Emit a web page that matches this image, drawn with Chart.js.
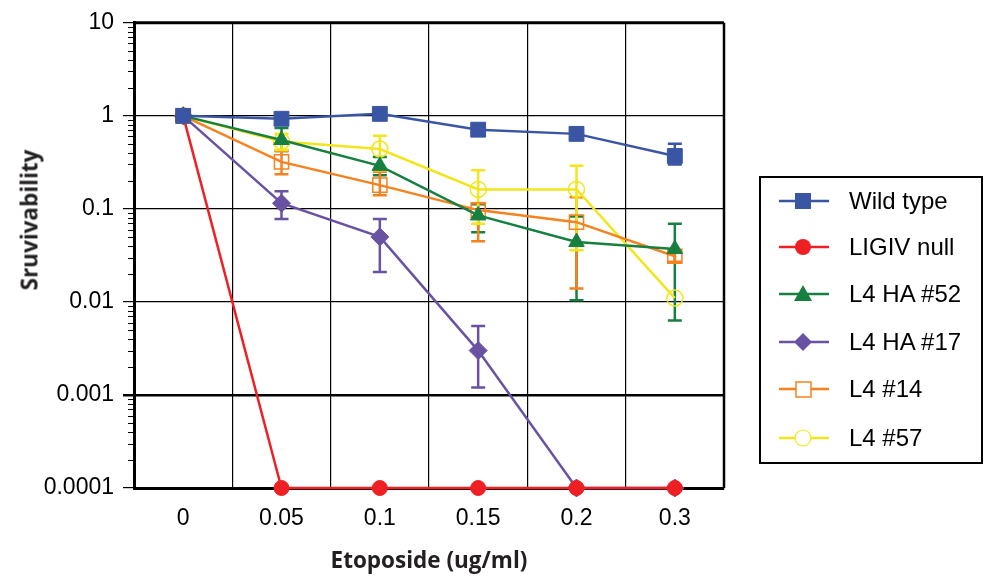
<!DOCTYPE html>
<html>
<head>
<meta charset="utf-8">
<script src="https://cdn.jsdelivr.net/npm/chart.js@4"></script>
<style>
  body { margin: 0; background: #fff; }
  #wrap { position: relative; width: 984px; height: 583px; overflow: hidden; }
  #chart { position: absolute; left: 0; top: 0; }
  .ttl { position: absolute; font: bold 22.5px "Open Sans", sans-serif; color: #231f20; white-space: nowrap; }
  #ytitle { left: 29px; top: 220px; transform: translate(-50%, -50%) rotate(-90deg); }
  #xtitle { left: 429px; top: 559px; transform: translate(-50%, -50%); }
  #legend { position: absolute; left: 759px; top: 176px; width: 224px; height: 288px; border: 2px solid #000; box-sizing: border-box; }
  .li { position: absolute; left: 18px; height: 30px; display: flex; align-items: center; font: 24px "Liberation Sans", Arial, sans-serif; color: #000; }
  .li svg { margin-right: 20px; }
</style>
</head>
<body>
<div id="wrap">
  <canvas id="chart" width="984" height="583"></canvas>
  <div class="ttl" id="ytitle">Sruvivability</div>
  <div class="ttl" id="xtitle">Etoposide (ug/ml)</div>
  <div id="legend"></div>
</div>
<script>
// ==================== DATA ====================
const doses = ['0', '0.05', '0.1', '0.15', '0.2', '0.3'];
const yTicks = [0.0001, 0.001, 0.01, 0.1, 1, 10];
const yTickLabels = ['0.0001', '0.001', '0.01', '0.1', '1', '10'];

const wildType   = [1, 0.93, 1.05, 0.71, 0.64, 0.37];
const wildTypeLo = [null, null, null, null, null, 0.3];
const wildTypeHi = [null, null, null, null, null, 0.5];

const ligivNull  = [1, 0.0001, 0.0001, 0.0001, 0.0001, 0.0001];

const ha52   = [1, 0.55, 0.29, 0.085, 0.044, 0.037];
const ha52Lo = [null, 0.42, 0.23, 0.056, 0.0104, 0.0063];
const ha52Hi = [null, 0.74, 0.36, 0.112, 0.083, 0.069];

const ha17   = [1, 0.115, 0.05, 0.003, 0.0001, 0.0001];
const ha17Lo = [null, 0.078, 0.021, 0.0012, null, null];
const ha17Hi = [null, 0.155, 0.078, 0.0055, null, null];

const l414   = [1, 0.32, 0.18, 0.097, 0.072, 0.031];
const l414Lo = [null, 0.235, 0.14, 0.045, 0.0139, 0.027];
const l414Hi = [null, 0.42, 0.25, 0.115, 0.133, 0.036];

const l457   = [1, 0.53, 0.44, 0.162, 0.162, 0.011];
const l457Lo = [null, 0.43, 0.26, 0.069, 0.036, null];
const l457Hi = [null, 0.64, 0.61, 0.26, 0.29, null];

// ==================== SERIES ====================
const series = [
  { label: 'Wild type',  data: wildType,  lo: wildTypeLo, hi: wildTypeHi, color: '#3a55a4', style: 'rect',     radius: 10.5, fill: true },
  { label: 'LIGIV null', data: ligivNull, lo: null,       hi: null,       color: '#ee2024', style: 'circle',   radius: 7.5,  fill: true },
  { label: 'L4 HA #52',  data: ha52,      lo: ha52Lo,     hi: ha52Hi,     color: '#178040', style: 'triangle', radius: 9,    fill: true },
  { label: 'L4 HA #17',  data: ha17,      lo: ha17Lo,     hi: ha17Hi,     color: '#6a52a3', style: 'rectRot',  radius: 9,    fill: true },
  { label: 'L4 #14',     data: l414,      lo: l414Lo,     hi: l414Hi,     color: '#f6821f', style: 'rect',     radius: 10,   fill: false },
  { label: 'L4 #57',     data: l457,      lo: l457Lo,     hi: l457Hi,     color: '#f2e51b', style: 'circle',   radius: 8,    fill: false }
];

// ERROR BARS
const errorBars = {
  id: 'errorBars',
  beforeDatasetsDraw(chart) {
    const ctx = chart.ctx;
    const y = chart.scales.y;
    chart.data.datasets.forEach((ds, i) => {
      if (!ds.errLo) return;
      const meta = chart.getDatasetMeta(i);
      ctx.save();
      ctx.strokeStyle = ds.borderColor;
      ctx.lineWidth = 2.5;
      meta.data.forEach((pt, j) => {
        const lo = ds.errLo[j], hi = ds.errHi[j];
        if (lo == null || hi == null) return;
        const y1 = y.getPixelForValue(lo), y2 = y.getPixelForValue(hi);
        ctx.beginPath();
        ctx.moveTo(pt.x, y1); ctx.lineTo(pt.x, y2);
        ctx.moveTo(pt.x - 7, y1); ctx.lineTo(pt.x + 7, y1);
        ctx.moveTo(pt.x - 7, y2); ctx.lineTo(pt.x + 7, y2);
        ctx.stroke();
      });
      ctx.restore();
    });
  }
};

// MINOR TICKS + FRAME
const frame = {
  id: 'frame',
  afterDraw(chart) {
    const ctx = chart.ctx;
    const a = chart.chartArea;
    const y = chart.scales.y;
    ctx.save();
    ctx.strokeStyle = '#000';
    ctx.lineWidth = 1;
    for (let d = 0; d < yTicks.length - 1; d++) {
      for (let m = 2; m <= 9; m++) {
        const py = Math.round(y.getPixelForValue(yTicks[d] * m)) + 0.5;
        ctx.beginPath();
        ctx.moveTo(a.left - 6, py); ctx.lineTo(a.left, py);
        ctx.stroke();
      }
    }
    ctx.lineWidth = 3;
    ctx.beginPath();
    ctx.moveTo(a.left, a.top); ctx.lineTo(a.right, a.top);
    ctx.stroke();
    ctx.lineWidth = 2.5;
    ctx.beginPath();
    ctx.moveTo(a.right, a.top); ctx.lineTo(a.right, a.bottom);
    ctx.stroke();
    ctx.restore();
  }
};

const tickFont = { family: '"Liberation Sans", Arial, sans-serif', size: 23 };

new Chart(document.getElementById('chart'), {
  type: 'line',
  data: {
    labels: doses,
    datasets: series.map(s => ({
      label: s.label,
      data: s.data,
      errLo: s.lo,
      errHi: s.hi,
      borderColor: s.color,
      backgroundColor: s.fill ? s.color : 'rgba(255,255,255,0)',
      borderWidth: 2.5,
      pointStyle: s.style,
      pointRadius: s.radius,
      pointBorderWidth: s.fill ? 1 : 1.5,
      pointBorderColor: s.color,
      pointBackgroundColor: s.fill ? s.color : 'rgba(255,255,255,0)',
      tension: 0,
      clip: false
    }))
  },
  options: {
    responsive: false,
    animation: false,
    layout: { padding: { top: 19, right: 260, left: 0, bottom: 0 } },
    plugins: { legend: { display: false }, tooltip: { enabled: false } },
    scales: {
      x: {
        type: 'category',
        offset: true,
        grid: { offset: true, color: '#000', lineWidth: 1.2, drawTicks: false },
        border: { width: 3, color: '#000' },
        ticks: { font: tickFont, color: '#000', padding: 17 },
        afterFit: s => { s.height = 95; }
      },
      y: {
        type: 'logarithmic',
        min: 0.0001,
        max: 10,
        afterBuildTicks: s => { s.ticks = yTicks.map(v => ({ value: v })); },
        ticks: {
          font: tickFont,
          color: '#000',
          padding: 9,
          autoSkip: false,
          callback: (v, i) => yTickLabels[i]
        },
        grid: {
          color: '#000',
          tickLength: 11,
          lineWidth: c => (c.tick && c.tick.value === 0.001) ? 2.5 : 1.2
        },
        border: { width: 3, color: '#000' },
        afterFit: s => { s.width = 134; }
      }
    }
  },
  plugins: [errorBars, frame]
});

// LEGEND
function markerSvg(s) {
  const c = s.color;
  let m = '';
  if (s.label === 'Wild type') m = `<rect x="16" y="3" width="16" height="16" fill="${c}"/>`;
  else if (s.label === 'LIGIV null') m = `<circle cx="24" cy="11" r="8" fill="${c}"/>`;
  else if (s.style === 'triangle') m = `<polygon points="24,2 33,18 15,18" fill="${c}"/>`;
  else if (s.style === 'rectRot') m = `<polygon points="24,2 33,11 24,20 15,11" fill="${c}"/>`;
  else if (s.style === 'rect') m = `<rect x="17" y="4" width="15" height="15" fill="#fff" stroke="${c}" stroke-width="1.5"/>`;
  else m = `<circle cx="24" cy="11" r="8" fill="#fff" stroke="${c}" stroke-width="1.2"/>`;
  return `<svg width="50" height="22"><line x1="0" y1="11" x2="50" y2="11" stroke="${c}" stroke-width="2.5"/>${m}</svg>`;
}
const legendTops = [8, 54, 101, 149, 196, 245];
document.getElementById('legend').innerHTML = series.map((s, i) =>
  `<div class="li" style="top:${legendTops[i]}px">${markerSvg(s)}<span>${s.label}</span></div>`
).join('');
</script>
</body>
</html>
